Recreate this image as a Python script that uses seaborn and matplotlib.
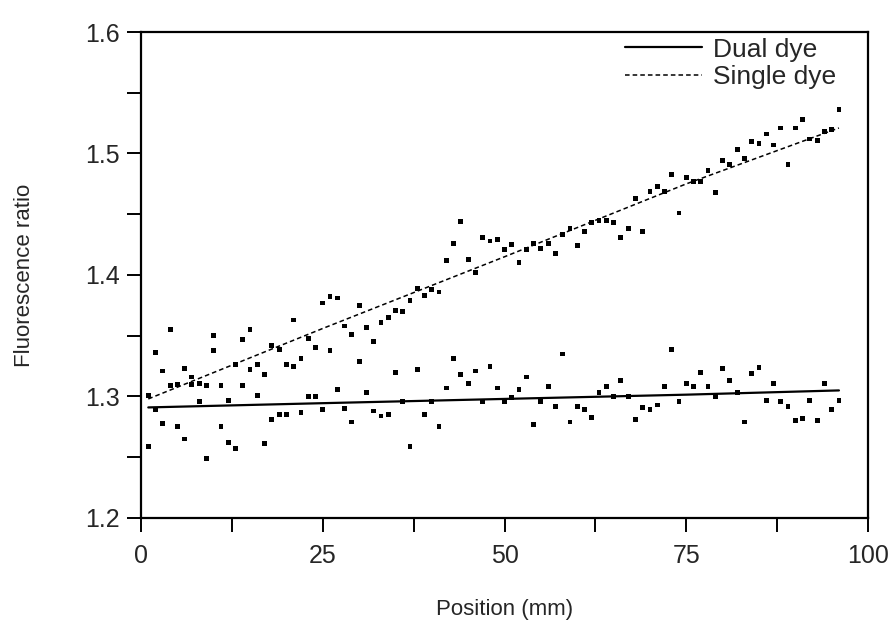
import numpy as np
import pandas as pd
import seaborn as sns
import matplotlib.pyplot as plt
from matplotlib.ticker import MultipleLocator

# Posiciones de medida (mm)
posicion = np.arange(1, 97)

# Cociente de fluorescencia, un solo colorante
single_dye = [1.301, 1.336, 1.321, 1.355, 1.310, 1.323, 1.316, 1.311, 1.309, 1.338,
              1.309, 1.297, 1.326, 1.347, 1.355, 1.326, 1.318, 1.342, 1.339, 1.326,
              1.363, 1.331, 1.348, 1.340, 1.377, 1.382, 1.381, 1.358, 1.351, 1.375,
              1.357, 1.345, 1.361, 1.365, 1.371, 1.370, 1.379, 1.389, 1.383, 1.388,
              1.386, 1.412, 1.426, 1.444, 1.413, 1.402, 1.431, 1.428, 1.429, 1.421,
              1.425, 1.410, 1.421, 1.426, 1.422, 1.426, 1.418, 1.433, 1.438, 1.424,
              1.436, 1.443, 1.445, 1.445, 1.443, 1.431, 1.438, 1.463, 1.436, 1.469,
              1.473, 1.469, 1.483, 1.451, 1.480, 1.477, 1.477, 1.486, 1.468, 1.494,
              1.491, 1.503, 1.496, 1.510, 1.508, 1.516, 1.507, 1.521, 1.491, 1.521,
              1.528, 1.512, 1.511, 1.518, 1.520, 1.536]

# Cociente de fluorescencia, dos colorantes
dual_dye = [1.259, 1.289, 1.278, 1.309, 1.275, 1.265, 1.310, 1.296, 1.249, 1.350,
            1.275, 1.262, 1.257, 1.309, 1.322, 1.301, 1.261, 1.281, 1.285, 1.285,
            1.325, 1.287, 1.300, 1.300, 1.289, 1.338, 1.306, 1.290, 1.279, 1.329,
            1.303, 1.288, 1.284, 1.285, 1.320, 1.296, 1.259, 1.322, 1.285, 1.296,
            1.275, 1.307, 1.331, 1.318, 1.311, 1.321, 1.296, 1.325, 1.307, 1.296,
            1.299, 1.306, 1.316, 1.277, 1.296, 1.308, 1.292, 1.335, 1.279, 1.292,
            1.289, 1.283, 1.303, 1.308, 1.300, 1.313, 1.300, 1.281, 1.291, 1.289,
            1.293, 1.308, 1.339, 1.296, 1.311, 1.308, 1.320, 1.308, 1.300, 1.323,
            1.313, 1.303, 1.279, 1.319, 1.324, 1.297, 1.311, 1.296, 1.292, 1.280,
            1.282, 1.297, 1.280, 1.311, 1.289, 1.297]

# Rectas de ajuste
fit_x = [1, 25, 50, 75, 96]
fit_single = [1.298, 1.356, 1.415, 1.475, 1.521]
fit_dual = [1.291, 1.2945, 1.298, 1.3015, 1.305]

sns.set_style("ticks")
plt.rcParams['font.family'] = ['Liberation Sans', 'DejaVu Sans']

fig = plt.figure(figsize=(8.88, 6.3), dpi=100)
ax = fig.add_axes([0.1588, 0.1778, 0.8187, 0.7714])

puntos = pd.DataFrame({'pos': np.concatenate([posicion, posicion]),
                       'ratio': np.concatenate([single_dye, dual_dye])})
sns.scatterplot(data=puntos, x='pos', y='ratio', marker='s', s=12, color='black',
                edgecolor='none', legend=False, ax=ax)

sns.lineplot(x=fit_x, y=fit_dual, color='black', linewidth=1.6, label='Dual dye', ax=ax)
sns.lineplot(x=fit_x, y=fit_single, color='black', linewidth=1.1, linestyle=(0, (3, 2)),
             label='Single dye', ax=ax)

ax.set_xlim(0, 100)
ax.set_ylim(1.2, 1.6)
ax.xaxis.set_major_locator(MultipleLocator(25))
ax.xaxis.set_minor_locator(MultipleLocator(12.5))
ax.yaxis.set_major_locator(MultipleLocator(0.1))
ax.yaxis.set_minor_locator(MultipleLocator(0.05))
ax.yaxis.set_major_formatter(plt.FuncFormatter(lambda v, p: f'{v:.1f}'))
ax.tick_params(which='both', direction='out', length=10, width=1.4, color='black',
               labelsize=18)
ax.tick_params(axis='x', pad=9)
ax.tick_params(axis='y', pad=5)

for s in ax.spines.values():
    s.set_visible(True)
    s.set_linewidth(1.6)
    s.set_color('black')

ax.set_xlabel('Position (mm)', fontsize=16, labelpad=22)
ax.set_ylabel('Fluorescence ratio', fontsize=16, labelpad=36)

ax.legend(loc='upper right', frameon=False, fontsize=19, handlelength=2.9,
          borderaxespad=0.0, handletextpad=0.4, labelspacing=0.12,
          bbox_to_anchor=(0.97, 1.01))

fig.savefig('out.png', dpi=100)
